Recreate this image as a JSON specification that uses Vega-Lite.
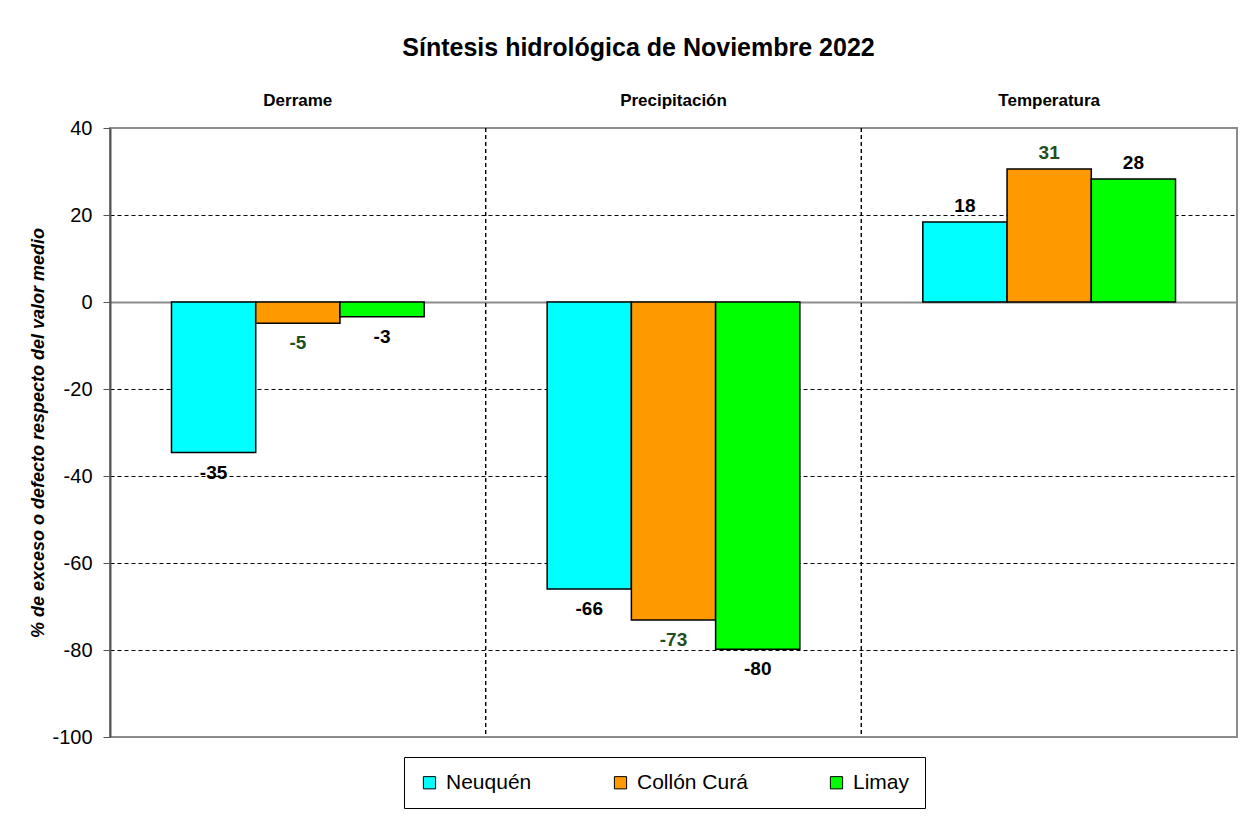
{
  "$schema": "https://vega.github.io/schema/vega-lite/v6.json",
  "width": 1127,
  "height": 609,
  "autosize": {"type": "none"},
  "padding": {"left": 110, "top": 128, "right": 5, "bottom": 99},
  "background": "white",
  "config": {
    "font": "Liberation Sans",
    "view": {"stroke": "#8c8c8c", "strokeWidth": 2},
    "locale": {"number": {"decimal": ".", "thousands": ",", "grouping": [3], "currency": ["$", ""], "minus": "-"}}
  },
  "title": {
    "text": "Síntesis hidrológica de Noviembre 2022",
    "fontSize": 25,
    "fontWeight": "bold",
    "font": "Liberation Sans",
    "color": "black",
    "anchor": "middle",
    "frame": "group",
    "dx": -35,
    "offset": 30
  },
  "data": {
    "values": [
      {"group": "Derrame", "series": "Neuquén", "value": -34.6},
      {"group": "Derrame", "series": "Collón Curá", "value": -4.9},
      {"group": "Derrame", "series": "Limay", "value": -3.4},
      {"group": "Precipitación", "series": "Neuquén", "value": -66.0},
      {"group": "Precipitación", "series": "Collón Curá", "value": -73.1},
      {"group": "Precipitación", "series": "Limay", "value": -79.8},
      {"group": "Temperatura", "series": "Neuquén", "value": 18.4},
      {"group": "Temperatura", "series": "Collón Curá", "value": 30.6},
      {"group": "Temperatura", "series": "Limay", "value": 28.3}
    ]
  },
  "layer": [
    {
      "mark": {"type": "bar", "stroke": "black", "strokeWidth": 1.5},
      "encoding": {
        "x": {
          "field": "group",
          "type": "nominal",
          "sort": ["Derrame", "Precipitación", "Temperatura"],
          "scale": {"paddingInner": 0, "paddingOuter": 0},
          "axis": {
            "orient": "top",
            "title": null,
            "labelAngle": 0,
            "ticks": false,
            "tickSize": 0,
            "domain": false,
            "grid": false,
            "labelPadding": 19,
            "labelFontSize": 17,
            "labelFontWeight": "bold",
            "labelColor": "black"
          }
        },
        "xOffset": {
          "field": "series",
          "type": "nominal",
          "sort": ["Neuquén", "Collón Curá", "Limay"],
          "scale": {"paddingInner": 0, "paddingOuter": 0.73}
        },
        "y": {
          "field": "value",
          "type": "quantitative",
          "scale": {"domain": [-100, 40], "nice": false},
          "axis": {
            "values": [-100, -80, -60, -40, -20, 0, 20, 40],
            "title": "% de exceso o defecto respecto del valor medio",
            "titleFontSize": 18,
            "titleFontStyle": "italic",
            "titleFontWeight": "bold",
            "titleColor": "black",
            "titlePadding": 4,
            "labelFontSize": 20,
            "labelColor": "black",
            "labelPadding": 11,
            "tickSize": 7,
            "tickColor": "#555555",
            "domainColor": "#555555",
            "domainWidth": 2,
            "grid": true,
            "gridColor": {"condition": {"test": "datum.value === 0", "value": "#8c8c8c"}, "value": "black"},
            "gridDash": {"condition": {"test": "datum.value === 0", "value": []}, "value": [4, 3]},
            "gridWidth": {"condition": {"test": "datum.value === 0", "value": 2}, "value": 1},
            "gridOpacity": {"condition": {"test": "datum.value === 40 || datum.value === -100", "value": 0}, "value": 1}
          }
        },
        "color": {
          "field": "series",
          "type": "nominal",
          "scale": {"domain": ["Neuquén", "Collón Curá", "Limay"], "range": ["#00ffff", "#ff9900", "#00ff00"]},
          "legend": {
            "title": null,
            "orient": "none",
            "legendX": 294,
            "legendY": 629,
            "direction": "horizontal",
            "strokeColor": "black",
            "fillColor": "white",
            "padding": 15,
            "columnPadding": 78,
            "symbolType": "square",
            "symbolSize": 150,
            "symbolStrokeColor": "black",
            "symbolStrokeWidth": 1,
            "symbolOpacity": 1,
            "labelFontSize": 21,
            "labelColor": "black",
            "labelOffset": 6
          }
        }
      }
    },
    {
      "transform": [{"filter": "datum.group !== 'Derrame'"}],
      "mark": {"type": "rule", "color": "black", "strokeWidth": 1, "strokeDash": [4, 3]},
      "encoding": {
        "x": {"field": "group", "type": "nominal", "sort": ["Derrame", "Precipitación", "Temperatura"], "bandPosition": 0}
      }
    },
    {
      "transform": [{"filter": "datum.value < 0"}],
      "mark": {"type": "text", "dy": 20, "fontSize": 19, "fontWeight": "bold", "baseline": "middle", "align": "center"},
      "encoding": {
        "x": {"field": "group", "type": "nominal", "sort": ["Derrame", "Precipitación", "Temperatura"]},
        "xOffset": {"field": "series", "type": "nominal", "sort": ["Neuquén", "Collón Curá", "Limay"]},
        "y": {"field": "value", "type": "quantitative"},
        "text": {"field": "value", "type": "quantitative", "format": ".0f"},
        "color": {"condition": {"test": "datum.series === 'Collón Curá'", "value": "#1f4e1f"}, "value": "black"}
      }
    },
    {
      "transform": [{"filter": "datum.value >= 0"}],
      "mark": {"type": "text", "dy": -16, "fontSize": 19, "fontWeight": "bold", "baseline": "middle", "align": "center"},
      "encoding": {
        "x": {"field": "group", "type": "nominal", "sort": ["Derrame", "Precipitación", "Temperatura"]},
        "xOffset": {"field": "series", "type": "nominal", "sort": ["Neuquén", "Collón Curá", "Limay"]},
        "y": {"field": "value", "type": "quantitative"},
        "text": {"field": "value", "type": "quantitative", "format": ".0f"},
        "color": {"condition": {"test": "datum.series === 'Collón Curá'", "value": "#1f4e1f"}, "value": "black"}
      }
    }
  ]
}
